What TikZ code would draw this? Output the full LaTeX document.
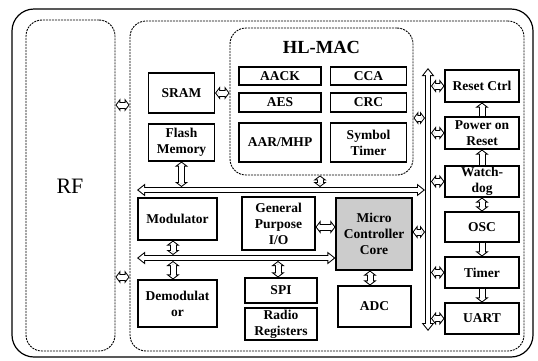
\documentclass[tikz,border=0pt]{standalone}
\usepackage{fontspec}
\setmainfont{Liberation Serif}
\usetikzlibrary{arrows.meta}
\begin{document}
\begin{tikzpicture}[x=1pt,y=-1pt,
  box/.style={draw, line width=1.1pt, font=\bfseries\fontsize{13.5}{16}\selectfont, align=center, inner sep=0pt},
  dashbox/.style={draw, line width=0.9pt, dash pattern=on 2pt off 1pt, rounded corners=16pt, inner sep=0pt},
  dbl/.style={line width=7pt, {Triangle[length=5pt,width=13pt]}-{Triangle[length=5pt,width=13pt]},
    postaction={draw=white, line width=5pt, shorten <=1.26pt, shorten >=1.26pt,
      {Triangle[length=2.74pt,width=7.1pt]}-{Triangle[length=2.74pt,width=7.1pt]}}},
  sgl/.style={line width=7pt, -{Triangle[length=5pt,width=13pt]},
    postaction={draw=white, line width=5pt, shorten >=1.26pt, -{Triangle[length=2.74pt,width=7.1pt]}}},
  bus/.style={line width=6pt, {Triangle[length=8pt,width=12pt]}-{Triangle[length=8pt,width=12pt]},
    postaction={draw=white, line width=4pt, shorten <=1.67pt, shorten >=1.67pt,
      {Triangle[length=5.33pt,width=8pt]}-{Triangle[length=5.33pt,width=8pt]}}}
]
\useasboundingbox (0,0) rectangle (538,360);
% containers
\node[draw, line width=1.2pt, rounded corners=22pt, minimum width=521pt, minimum height=348pt, inner sep=0pt] (outer) at (272.5,183) {};
\node[dashbox, minimum width=89pt, minimum height=331pt] (rf) at (70.5,185.5) {};
\node[font=\fontsize{22}{22}\selectfont] (rftext) at (70,186) {RF};
\node[dashbox, minimum width=394pt, minimum height=330pt] (main) at (327,186) {};
\node[dashbox, minimum width=183pt, minimum height=147pt] (hlmac) at (321.5,101.5) {};
\node[font=\bfseries\fontsize{18.5}{18.5}\selectfont] (hltitle) at (321.5,47) {HL-MAC};
% HL-MAC blocks
\node[box, minimum width=82pt, minimum height=18pt] (aack) at (280,76) {AACK};
\node[box, minimum width=76pt, minimum height=18pt] (cca) at (368.5,76) {CCA};
\node[box, minimum width=82pt, minimum height=19pt] (aes) at (280,102.5) {AES};
\node[box, minimum width=76pt, minimum height=19pt] (crc) at (368.5,102.5) {CRC};
\node[box, minimum width=82pt, minimum height=39pt] (aar) at (280,142.5) {AAR/MHP};
\node[box, minimum width=76pt, minimum height=39pt] (symt) at (368.5,142.5) {Symbol\\Timer};
% memories
\node[box, minimum width=66pt, minimum height=40pt] (sram) at (181.5,93) {SRAM};
\node[box, minimum width=66pt, minimum height=37pt] (flash) at (181.5,142.5) {Flash\\Memory};
% middle blocks
\node[box, minimum width=79pt, minimum height=42pt] (mod) at (177.5,219) {Modulator};
\node[box, minimum width=73pt, minimum height=53pt] (gpio) at (278.5,223.5) {General\\Purpose\\I/O};
\node[box, fill=gray!40, minimum width=76pt, minimum height=72pt] (mcc) at (374,234) {Micro\\Controller\\Core};
\node[box, minimum width=79pt, minimum height=47pt] (demod) at (177.5,303.5) {Demodulat\\or};
\node[box, minimum width=72pt, minimum height=25pt] (spi) at (281,290.5) {SPI};
\node[box, minimum width=72pt, minimum height=32pt] (radio) at (281,324) {Radio\\Registers};
\node[box, minimum width=73pt, minimum height=41pt] (adc) at (374.5,306.5) {ADC};
% right column
\node[box, minimum width=74pt, minimum height=32pt] (rst) at (482,86) {Reset Ctrl};
\node[box, minimum width=74pt, minimum height=32pt] (por) at (482,133) {Power on\\Reset};
\node[box, minimum width=74pt, minimum height=31pt] (wd) at (482,181.5) {Watch-\\dog};
\node[box, minimum width=74pt, minimum height=30pt] (osc) at (482,227) {OSC};
\node[box, minimum width=74pt, minimum height=31pt] (tim) at (482,272.5) {Timer};
\node[box, minimum width=74pt, minimum height=31pt] (uart) at (482,318.5) {UART};
% bus coordinates
\coordinate (b1l) at (137,190);
\coordinate (b1r) at (425,190);
\coordinate (b1top) at (0,187);
\coordinate (b2l) at (137,258);
\coordinate (b2top) at (0,255);
\coordinate (b2bot) at (0,261);
\coordinate (vbt) at (428,68);
\coordinate (vbb) at (428,331);
\coordinate (vbl) at (425,0);
\coordinate (vbr) at (431,0);
\coordinate (r1) at (0,105);
\coordinate (r2) at (0,277);
% buses
\draw[bus] (b1l) -- (b1r);
\draw[bus] (b2l) -- (mcc.west |- b2l);
\draw[bus] (vbt) -- (vbb);
% connectors
\draw[dbl] (rf.east |- r1) -- (main.west |- r1);
\draw[dbl] (rf.east |- r2) -- (main.west |- r2);
\draw[dbl] (sram.east) -- (hlmac.west |- sram.east);
\draw[dbl] (flash.south) -- (flash.south |- b1top);
\draw[dbl] (hlmac.south -| 320,0) -- (b1top -| 320,0);
\draw[dbl] (gpio.east |- 0,227) -- (mcc.west |- 0,227);
\draw[dbl] (mod.south -| 173,0) -- (b2top -| 173,0);
\draw[dbl] (b2bot -| 173,0) -- (demod.north -| 173,0);
\draw[dbl] (b2bot -| 278,0) -- (spi.north -| 278,0);
\draw[dbl] (mcc.south -| 370,0) -- (adc.north -| 370,0);
\draw[dbl] (mcc.east |- 0,232) -- (vbl |- 0,232);
\draw[dbl] (hlmac.east |- 0,118) -- (vbl |- 0,118);
\draw[dbl] (vbr |- rst.west) -- (rst.west);
\draw[dbl] (vbr |- por.west) -- (por.west);
\draw[dbl] (vbr |- wd.west) -- (wd.west);
\draw[dbl] (vbr |- tim.west) -- (tim.west);
\draw[dbl] (vbr |- uart.west) -- (uart.west);
\draw[sgl] (por.north) -- (rst.south);
\draw[sgl] (wd.north) -- (por.south);
\draw[dbl] (wd.south) -- (osc.north);
\draw[sgl] (osc.south) -- (tim.north);
\draw[sgl] (tim.south) -- (uart.north);
\end{tikzpicture}
\end{document}
